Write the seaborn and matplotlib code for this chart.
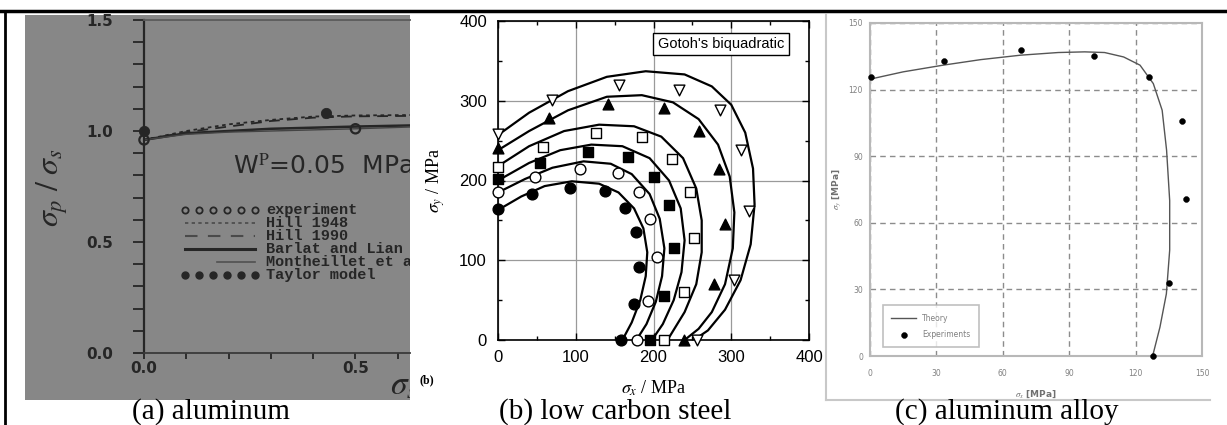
import numpy as np
import pandas as pd
import matplotlib.pyplot as plt
import seaborn as sns
from matplotlib.lines import Line2D

plt.rcParams['mathtext.fontset'] = 'stix'

# ---- (a) aluminum : normalised yield stress ----
a_x = [0.0, 0.1, 0.2, 0.3, 0.4, 0.5, 0.63]
a_hill48 = [0.96, 1.0, 1.03, 1.05, 1.065, 1.07, 1.072]
a_hill90 = [0.96, 0.995, 1.02, 1.045, 1.06, 1.066, 1.068]
a_barlat = [0.96, 0.99, 1.0, 1.01, 1.015, 1.02, 1.025]
a_month = [0.96, 0.985, 0.995, 1.0, 1.005, 1.01, 1.018]
a_exp_x = [0.0, 0.5]
a_exp_y = [0.96, 1.01]
a_taylor_x = [0.0, 0.43]
a_taylor_y = [1.0, 1.08]
a_legend = ['experiment', 'Hill 1948', 'Hill 1990', 'Barlat and Lian',
            'Montheillet et al.', 'Taylor model']

# ---- (b) low carbon steel : yield loci (MPa) ----
b1_x = [0, 30, 60, 95, 130, 155, 175, 187, 192, 190, 183, 172, 160]
b1_y = [163, 180, 193, 199, 196, 185, 165, 140, 110, 80, 50, 22, 0]
b1_px = [0, 44, 93, 138, 163, 177, 181, 175, 158]
b1_py = [164, 183, 191, 187, 165, 136, 92, 45, 0]

b2_x = [0, 35, 70, 110, 145, 172, 195, 208, 214, 211, 203, 191, 178]
b2_y = [185, 202, 216, 224, 221, 208, 183, 152, 115, 80, 48, 20, 0]
b2_px = [0, 48, 105, 154, 181, 196, 205, 193, 179]
b2_py = [185, 204, 215, 210, 185, 152, 104, 49, 0]

b3_x = [0, 40, 80, 120, 160, 195, 220, 235, 240, 236, 226, 212, 198]
b3_y = [200, 222, 238, 245, 243, 228, 200, 165, 125, 85, 50, 20, 0]
b3_px = [0, 54, 116, 167, 200, 220, 227, 214, 195]
b3_py = [202, 222, 236, 230, 204, 169, 115, 55, 0]

b4_x = [0, 40, 85, 130, 175, 210, 238, 255, 262, 262, 255, 240, 218]
b4_y = [218, 243, 262, 270, 268, 255, 228, 190, 150, 110, 70, 35, 0]
b4_px = [0, 58, 126, 185, 224, 247, 252, 239, 213]
b4_py = [217, 242, 260, 254, 227, 186, 128, 60, 0]

b5_x = [0, 40, 90, 140, 185, 225, 258, 283, 298, 304, 302, 292, 275, 258, 240]
b5_y = [238, 262, 288, 305, 307, 298, 277, 245, 205, 160, 115, 70, 35, 14, 0]
b5_px = [0, 65, 142, 213, 259, 284, 292, 278, 239]
b5_py = [241, 278, 296, 291, 262, 215, 146, 70, 0]

b6_x = [0, 40, 90, 140, 190, 240, 275, 300, 318, 328, 330, 325, 312, 292, 270, 252]
b6_y = [257, 285, 312, 330, 337, 333, 318, 295, 260, 215, 170, 120, 75, 38, 12, 0]
b6_px = [0, 69, 156, 233, 286, 312, 323, 304, 256]
b6_py = [258, 301, 320, 314, 289, 238, 162, 75, 0]

# ---- (c) aluminum alloy ----
c_theory_x = [0, 15, 33, 50, 68, 85, 97, 106, 114.6, 122, 128, 132, 134, 135.4, 135.4, 133.9, 131, 127.7]
c_theory_y = [124.7, 128, 131, 133.5, 135.5, 136.7, 137, 136.7, 134.7, 131, 122.7, 110.7, 92.7, 70, 47.7, 28, 13, 0]
c_exp_x = [0.3, 33.5, 68.1, 101.2, 125.9, 141, 142.9, 134.9, 127.7]
c_exp_y = [125.7, 132.9, 138, 135, 125.9, 105.9, 70.8, 32.9, 0]

captions = ['(a) aluminum', '(b) low carbon steel', '(c) aluminum alloy']

W, H = 1227, 425
fig = plt.figure(figsize=(W / 100, H / 100), dpi=100)


def box(l, t, r, b):
    return [l / W, 1 - b / H, (r - l) / W, (b - t) / H]


def fline(x0, y0, x1, y1, **kw):
    fig.add_artist(Line2D([x0 / W, x1 / W], [1 - y0 / H, 1 - y1 / H],
                          transform=fig.transFigure, **kw))


dark = '#262626'

# ------------------------------------------------------------ panel (a)
bg_a = fig.add_axes(box(25, 15, 410, 400))
bg_a.set_facecolor('#878787')
bg_a.set_xticks([])
bg_a.set_yticks([])
for s in bg_a.spines.values():
    s.set_visible(False)
bg_a.set_xlim(0, 1)
bg_a.set_ylim(0, 1)
bg_a.text(0.07, 0.553, r'$\sigma_p\ /\ \sigma_s$', rotation=90, fontsize=23,
          ha='center', va='center', color=dark)
bg_a.text(0.948, 0.04, r'$\sigma_s$', fontsize=24, ha='left', va='center',
          color=dark, clip_on=True)

ax_a = fig.add_axes(box(144, 20, 410, 353))
ax_a.patch.set_alpha(0)
sns.lineplot(x=a_x, y=a_hill48, ax=ax_a, color=dark, lw=1.3, linestyle=(0, (2, 2)))
sns.lineplot(x=a_x, y=a_hill90, ax=ax_a, color=dark, lw=1.3, linestyle=(0, (6, 4)))
sns.lineplot(x=a_x, y=a_barlat, ax=ax_a, color=dark, lw=1.8)
sns.lineplot(x=a_x, y=a_month, ax=ax_a, color='#444444', lw=1.0)
sns.scatterplot(x=a_exp_x, y=a_exp_y, ax=ax_a, s=45, facecolor='none',
                edgecolor=dark, linewidth=1.6, clip_on=False, zorder=5)
sns.scatterplot(x=a_taylor_x, y=a_taylor_y, ax=ax_a, s=55, color=dark,
                edgecolor=dark, marker='o', clip_on=False, zorder=5)
ax_a.set_xlim(0, 0.629)
ax_a.set_ylim(0, 1.5)
ax_a.set_xticks([0.0, 0.5])
ax_a.set_xticklabels(['0.0', '0.5'])
ax_a.set_xticks(np.arange(0.1, 0.62, 0.1), minor=True)
ax_a.set_yticks([0.0, 0.5, 1.0, 1.5])
ax_a.set_yticklabels(['0.0', '0.5', '1.0', '1.5'])
ax_a.set_yticks(np.arange(0.1, 1.5, 0.1), minor=True)
ax_a.tick_params(axis='y', which='both', direction='out', length=8, width=1.3,
                 color=dark, labelsize=11, labelcolor=dark, pad=14)
ax_a.tick_params(axis='x', which='both', direction='out', length=4, width=1.3,
                 color=dark, labelsize=11, labelcolor=dark, pad=2)
for lab in ax_a.get_xticklabels() + ax_a.get_yticklabels():
    lab.set_fontweight('bold')
ax_a.spines['right'].set_visible(False)
ax_a.spines['left'].set_color(dark)
ax_a.spines['left'].set_linewidth(1.6)
ax_a.spines['bottom'].set_color('#3a3a3a')
ax_a.spines['bottom'].set_linewidth(1.3)
ax_a.spines['top'].set_color('#5a5a5a')
ax_a.spines['top'].set_linewidth(1.3)
ax_a.text(0.335, 0.559, r'W$^{\rm P}$=0.05  MPa', transform=ax_a.transAxes,
          fontsize=18, ha='left', va='center', color=dark, clip_on=True)

# hand-made legend (cut by the picture edge)
rows = [210, 223, 236, 249, 262, 275]
x0, x1 = (185 - 144) / 266, (255 - 144) / 266
styles = [dict(ls='none', marker='o', mfc='none', mec=dark, ms=4.5, mew=1.3),
          dict(ls=(0, (2, 2)), lw=1.2, color='#4a4a4a'),
          dict(ls=(0, (6, 5)), lw=1.5, color='#4a4a4a'),
          dict(ls='-', lw=2.2, color=dark),
          dict(ls='-', lw=1.2, color='#505050'),
          dict(ls='none', marker='o', mfc=dark, mec=dark, ms=5)]
for r, lab, st in zip(rows, a_legend, styles):
    yy = (353 - r) / 333
    if st.get('ls') == 'none':
        ax_a.plot(np.linspace(x0, x1, 6), [yy] * 6, transform=ax_a.transAxes, **st)
    else:
        xs = x0 + 0.12 if lab.startswith('Month') else x0
        ax_a.plot([xs, x1], [yy, yy], transform=ax_a.transAxes, **st)
    ax_a.text((266 - 144) / 266, yy, lab, transform=ax_a.transAxes,
              family='Liberation Mono', fontweight='bold', fontsize=11,
              ha='left', va='center', color=dark, clip_on=True)

# ------------------------------------------------------------ panel (b)
ax_b = fig.add_axes(box(498, 21, 809, 340))
curves = [(b1_x, b1_y, b1_px, b1_py, 'o', 'k'),
          (b2_x, b2_y, b2_px, b2_py, 'o', 'white'),
          (b3_x, b3_y, b3_px, b3_py, 's', 'k'),
          (b4_x, b4_y, b4_px, b4_py, 's', 'white'),
          (b5_x, b5_y, b5_px, b5_py, '^', 'k'),
          (b6_x, b6_y, b6_px, b6_py, 'v', 'white')]
for cx, cy, px, py, mk, fc in curves:
    df = pd.DataFrame({'sx': cx, 'sy': cy})
    sns.lineplot(data=df, x='sx', y='sy', sort=False, estimator=None,
                 ax=ax_b, color='k', lw=1.6, zorder=3)
    sns.scatterplot(x=px, y=py, ax=ax_b, marker=mk, s=60, facecolor=fc,
                    edgecolor='k', linewidth=1.0, zorder=4, clip_on=False)
ax_b.set_xlim(0, 400)
ax_b.set_ylim(0, 400)
ax_b.set_xticks([0, 100, 200, 300, 400])
ax_b.set_yticks([0, 100, 200, 300, 400])
ax_b.set_xticks([50, 150, 250, 350], minor=True)
ax_b.set_yticks([50, 150, 250, 350], minor=True)
ax_b.grid(True, which='major', color='#9a9a9a', lw=0.9)
ax_b.set_axisbelow(True)
ax_b.tick_params(which='both', direction='in', top=True, right=True,
                 labelsize=12, width=1)
ax_b.tick_params(which='major', length=5)
ax_b.tick_params(which='minor', length=3)
ax_b.tick_params(axis='x', pad=7)
ax_b.tick_params(axis='y', pad=8)
for lab in ax_b.get_xticklabels() + ax_b.get_yticklabels():
    lab.set_family('Liberation Sans')
for s in ax_b.spines.values():
    s.set_linewidth(1.2)
ax_b.set_xlabel(r'$\sigma_x$ / MPa', family='Liberation Serif', fontsize=13,
                labelpad=10)
ax_b.set_ylabel(r'$\sigma_y$ / MPa', family='Liberation Serif', fontsize=13,
                labelpad=9)
ax_b.text(0.717, 0.928, "Gotoh's biquadratic", transform=ax_b.transAxes,
          family='Liberation Sans', fontsize=10.5, ha='center', va='center',
          bbox=dict(boxstyle='square,pad=0.3', fc='white', ec='k', lw=1))
fig.text(427 / W, 1 - 380 / H, '(b)', family='Liberation Serif',
         fontweight='bold', fontsize=8.5, ha='center', va='center')

# ------------------------------------------------------------ panel (c)
fline(826, 15, 826, 400, color='#c8c8c8', lw=1.5)
fline(826, 400, 1210, 400, color='#c8c8c8', lw=1.5)
ax_c = fig.add_axes(box(870, 23, 1202, 356))
sns.lineplot(x=c_theory_x, y=c_theory_y, sort=False, estimator=None, ax=ax_c,
             color='#555555', lw=1.0, label='Theory')
sns.scatterplot(x=c_exp_x, y=c_exp_y, ax=ax_c, color='k', s=18,
                edgecolor='k', clip_on=False, zorder=5, label='Experiments')
ax_c.set_xlim(0, 150)
ax_c.set_ylim(0, 150)
ax_c.set_xticks(range(0, 151, 30))
ax_c.set_yticks(range(0, 151, 30))
ax_c.grid(True, color='#8c8c8c', lw=1.0, linestyle=(0, (4, 3)))
ax_c.set_axisbelow(True)
ax_c.tick_params(length=0, labelsize=5.5, labelcolor='#808080')
ax_c.tick_params(axis='x', pad=9)
ax_c.tick_params(axis='y', pad=5)
for s in ax_c.spines.values():
    s.set_color('#b8b8b8')
    s.set_linewidth(1.5)
ax_c.set_xlabel(r'$\sigma_x$ [MPa]', fontsize=6.5, fontweight='bold',
                color='#707070', labelpad=8)
ax_c.set_ylabel(r'$\sigma_y$ [MPa]', fontsize=6.5, fontweight='bold',
                color='#707070', labelpad=4)
leg = ax_c.legend(loc='lower left', bbox_to_anchor=(0.039, 0.027),
                  borderaxespad=0, fontsize=5.5, frameon=True, fancybox=False,
                  edgecolor='#b0b0b0', borderpad=1.1, handlelength=3.2,
                  labelspacing=0.9)
leg.get_frame().set_linewidth(1.2)
for t in leg.get_texts():
    t.set_color('#808080')

# ------------------------------------------------------------ table frame + captions
fline(0, 11, W, 11, color='k', lw=2.5)
fline(5, 11, 5, H, color='k', lw=2)
for cx, cap in zip([211, 615, 1007], captions):
    fig.text(cx / W, 1 - 419 / H, cap, family='Liberation Serif', fontsize=21,
             ha='center', va='baseline')

fig.savefig('out.png', dpi=100)
